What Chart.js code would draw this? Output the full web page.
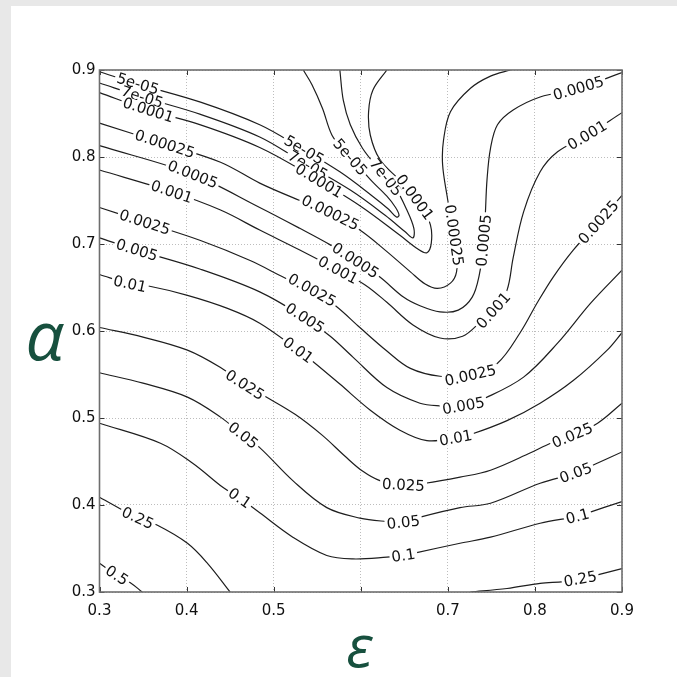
<!DOCTYPE html>
<html>
<head>
<meta charset="utf-8">
<script src="https://cdn.jsdelivr.net/npm/chart.js@4.4.1/dist/chart.umd.min.js"></script>
<style>
  body { margin: 0; background: #e8e8e8; }
  #wrap { position: absolute; left: 11px; top: 6px; width: 666px; height: 671px; background: #fff; }
</style>
</head>
<body>
<div id="wrap"><canvas id="contourChart" width="666" height="671"></canvas></div>
<script>
// axis ticks
const xTicks = [0.3, 0.4, 0.5, 0.6, 0.7, 0.8, 0.9];
const xTickLabels = ["0.3", "0.4", "0.5", "", "0.7", "0.8", "0.9"];
const yTicks = [0.3, 0.4, 0.5, 0.6, 0.7, 0.8, 0.9];
const yTickLabels = ["0.3", "0.4", "0.5", "0.6", "0.7", "0.8", "0.9"];

// contour lines, [epsilon, alpha] points
const c5e05 = [[0.300,0.898],[0.344,0.884],[0.416,0.863],[0.484,0.837],[0.530,0.811],[0.576,0.783],[0.611,0.757],[0.632,0.740],[0.641,0.731],[0.644,0.733],[0.640,0.742],[0.630,0.755],[0.613,0.772],[0.597,0.790],[0.582,0.806],[0.567,0.825],[0.556,0.856],[0.544,0.883],[0.534,0.900]];
const c7e05 = [[0.300,0.885],[0.349,0.869],[0.416,0.849],[0.484,0.823],[0.530,0.796],[0.588,0.762],[0.628,0.733],[0.651,0.714],[0.660,0.707],[0.661,0.718],[0.653,0.739],[0.640,0.764],[0.620,0.787],[0.602,0.810],[0.588,0.837],[0.580,0.865],[0.576,0.900]];
const c1e04 = [[0.300,0.874],[0.356,0.854],[0.416,0.837],[0.484,0.811],[0.542,0.779],[0.599,0.744],[0.645,0.710],[0.666,0.694],[0.676,0.690],[0.681,0.701],[0.680,0.722],[0.668,0.747],[0.645,0.773],[0.622,0.797],[0.611,0.825],[0.609,0.852],[0.614,0.877],[0.630,0.900]];
const c25e05 = [[0.300,0.839],[0.375,0.815],[0.439,0.794],[0.484,0.770],[0.530,0.750],[0.565,0.736],[0.599,0.716],[0.628,0.693],[0.657,0.668],[0.674,0.654],[0.688,0.649],[0.703,0.655],[0.710,0.668],[0.710,0.693],[0.705,0.722],[0.699,0.756],[0.694,0.791],[0.695,0.819],[0.703,0.852],[0.726,0.879],[0.749,0.893],[0.772,0.900]];
const c5e04 = [[0.300,0.813],[0.407,0.780],[0.484,0.742],[0.530,0.718],[0.565,0.699],[0.594,0.681],[0.622,0.662],[0.649,0.639],[0.668,0.629],[0.691,0.622],[0.712,0.624],[0.728,0.639],[0.736,0.664],[0.741,0.699],[0.743,0.733],[0.745,0.774],[0.749,0.810],[0.757,0.837],[0.775,0.854],[0.806,0.869],[0.850,0.879],[0.900,0.897]];
const c1e03 = [[0.300,0.785],[0.383,0.760],[0.439,0.739],[0.484,0.716],[0.530,0.693],[0.574,0.670],[0.605,0.653],[0.630,0.633],[0.660,0.607],[0.691,0.592],[0.717,0.594],[0.737,0.610],[0.755,0.626],[0.768,0.647],[0.775,0.684],[0.787,0.737],[0.806,0.783],[0.826,0.806],[0.860,0.825],[0.900,0.851]];
const c25e04 = [[0.300,0.742],[0.352,0.725],[0.416,0.704],[0.473,0.681],[0.513,0.661],[0.544,0.647],[0.571,0.629],[0.599,0.604],[0.630,0.577],[0.657,0.557],[0.691,0.548],[0.726,0.549],[0.757,0.563],[0.783,0.598],[0.803,0.633],[0.821,0.662],[0.844,0.693],[0.873,0.725],[0.900,0.756]];
const c5e03 = [[0.300,0.707],[0.343,0.693],[0.416,0.671],[0.484,0.645],[0.536,0.615],[0.565,0.594],[0.591,0.570],[0.630,0.535],[0.668,0.517],[0.691,0.514],[0.718,0.514],[0.743,0.523],[0.787,0.547],[0.826,0.586],[0.864,0.632],[0.900,0.670]];
const c1e02 = [[0.300,0.665],[0.335,0.654],[0.355,0.652],[0.401,0.641],[0.447,0.626],[0.484,0.609],[0.528,0.578],[0.545,0.565],[0.576,0.539],[0.611,0.509],[0.645,0.486],[0.676,0.474],[0.709,0.477],[0.726,0.481],[0.768,0.497],[0.806,0.517],[0.844,0.543],[0.883,0.578],[0.900,0.598]];
const c25e03 = [[0.300,0.604],[0.350,0.593],[0.401,0.578],[0.439,0.558],[0.467,0.538],[0.490,0.525],[0.525,0.504],[0.556,0.480],[0.582,0.456],[0.602,0.439],[0.622,0.428],[0.649,0.423],[0.674,0.425],[0.714,0.432],[0.749,0.440],[0.795,0.460],[0.818,0.471],[0.843,0.480],[0.872,0.494],[0.900,0.517]];
const c5e02 = [[0.300,0.552],[0.350,0.540],[0.401,0.524],[0.439,0.501],[0.465,0.480],[0.484,0.466],[0.522,0.428],[0.561,0.397],[0.599,0.385],[0.630,0.381],[0.649,0.380],[0.668,0.386],[0.714,0.397],[0.749,0.402],[0.806,0.425],[0.847,0.437],[0.867,0.446],[0.900,0.461]];
const c1e01 = [[0.300,0.494],[0.370,0.471],[0.407,0.448],[0.442,0.420],[0.461,0.408],[0.484,0.391],[0.522,0.363],[0.561,0.342],[0.591,0.338],[0.630,0.340],[0.649,0.342],[0.663,0.345],[0.714,0.356],[0.749,0.363],[0.806,0.379],[0.849,0.387],[0.861,0.391],[0.900,0.404]];
const c25e02a = [[0.300,0.409],[0.344,0.385],[0.366,0.377],[0.401,0.356],[0.424,0.333],[0.450,0.300]];
const c25e02b = [[0.726,0.300],[0.768,0.304],[0.806,0.310],[0.833,0.312],[0.852,0.315],[0.873,0.320],[0.900,0.327]];
const c5e01 = [[0.300,0.333],[0.320,0.319],[0.335,0.311],[0.349,0.300]];

const contours = [
    ["5e-05", c5e05], ["7e-05", c7e05], ["0.0001", c1e04], ["0.00025", c25e05],
    ["0.0005", c5e04], ["0.001", c1e03], ["0.0025", c25e04], ["0.005", c5e03],
    ["0.01", c1e02], ["0.025", c25e03], ["0.05", c5e02], ["0.1", c1e01],
    ["0.25", c25e02a], ["0.25", c25e02b], ["0.5", c5e01]
];

// where the inline level labels sit (epsilon, alpha)
const labelSpots = [
    ["5e-05", 0.344, 0.884], ["5e-05", 0.533, 0.805], ["5e-05", 0.588, 0.800],
    ["7e-05", 0.349, 0.869], ["7e-05", 0.539, 0.790], ["7e-05", 0.628, 0.776],
    ["0.0001", 0.356, 0.854], ["0.0001", 0.551, 0.771], ["0.0001", 0.659, 0.751],
    ["0.00025", 0.375, 0.815], ["0.00025", 0.565, 0.736], ["0.00025", 0.706, 0.710],
    ["0.0005", 0.407, 0.780], ["0.0005", 0.594, 0.681], ["0.0005", 0.741, 0.704], ["0.0005", 0.850, 0.879],
    ["0.001", 0.383, 0.760], ["0.001", 0.574, 0.670], ["0.001", 0.752, 0.624], ["0.001", 0.860, 0.825],
    ["0.0025", 0.352, 0.725], ["0.0025", 0.544, 0.647], ["0.0025", 0.726, 0.549], ["0.0025", 0.873, 0.725],
    ["0.005", 0.343, 0.693], ["0.005", 0.536, 0.615], ["0.005", 0.718, 0.514],
    ["0.01", 0.335, 0.654], ["0.01", 0.528, 0.578], ["0.01", 0.709, 0.477],
    ["0.025", 0.467, 0.538], ["0.025", 0.649, 0.423], ["0.025", 0.843, 0.480],
    ["0.05", 0.465, 0.480], ["0.05", 0.649, 0.380], ["0.05", 0.847, 0.437],
    ["0.1", 0.461, 0.408], ["0.1", 0.649, 0.342], ["0.1", 0.849, 0.387],
    ["0.25", 0.344, 0.385], ["0.25", 0.852, 0.315],
    ["0.5", 0.320, 0.319]
];

const tickFont = { family: "DejaVu Sans", size: 15 };

// snap a label onto its curve and find the direction of the line there
function snapToCurve(pts, px, py) {
    let best = null;
    let acc = 0;
    const cum = [0];
    for (let i = 1; i < pts.length; i++) {
        acc += Math.hypot(pts[i][0] - pts[i - 1][0], pts[i][1] - pts[i - 1][1]);
        cum.push(acc);
    }
    for (let i = 0; i < pts.length - 1; i++) {
        const [ax, ay] = pts[i], [bx, by] = pts[i + 1];
        const dx = bx - ax, dy = by - ay;
        const len2 = dx * dx + dy * dy || 1;
        let t = ((px - ax) * dx + (py - ay) * dy) / len2;
        t = Math.max(0, Math.min(1, t));
        const qx = ax + t * dx, qy = ay + t * dy;
        const d = (qx - px) ** 2 + (qy - py) ** 2;
        if (!best || d < best.d) best = { d, x: qx, y: qy, s: cum[i] + t * Math.sqrt(len2) };
    }
    function at(s) {
        s = Math.max(0, Math.min(acc, s));
        for (let i = 1; i < pts.length; i++) {
            if (cum[i] >= s) {
                const f = (s - cum[i - 1]) / ((cum[i] - cum[i - 1]) || 1);
                return [pts[i - 1][0] + f * (pts[i][0] - pts[i - 1][0]), pts[i - 1][1] + f * (pts[i][1] - pts[i - 1][1])];
            }
        }
        return pts[pts.length - 1];
    }
    const p1 = at(best.s - 22), p2 = at(best.s + 22);
    let a = Math.atan2(p2[1] - p1[1], p2[0] - p1[0]);
    if (a > Math.PI / 2) a -= Math.PI;
    if (a <= -Math.PI / 2) a += Math.PI;
    best.a = a;
    return best;
}

const contourLabels = {
    id: "contourLabels",
    afterDatasetsDraw(chart) {
        const ctx = chart.ctx, xs = chart.scales.x, ys = chart.scales.y, area = chart.chartArea;
        ctx.save();
        ctx.beginPath();
        ctx.rect(area.left, area.top, area.right - area.left, area.bottom - area.top);
        ctx.clip();
        ctx.font = "15px 'DejaVu Sans'";
        ctx.textAlign = "center";
        ctx.textBaseline = "middle";
        labelSpots.forEach(([lvl, ex, ay]) => {
            const px = xs.getPixelForValue(ex), py = ys.getPixelForValue(ay);
            let best = null;
            contours.filter(c => c[0] === lvl).forEach(c => {
                const pts = c[1].map(p => [xs.getPixelForValue(p[0]), ys.getPixelForValue(p[1])]);
                const b = snapToCurve(pts, px, py);
                if (!best || b.d < best.d) best = b;
            });
            const w = ctx.measureText(lvl).width;
            ctx.save();
            ctx.translate(best.x, best.y);
            ctx.rotate(best.a);
            ctx.fillStyle = "#fff";
            ctx.fillRect(-w / 2 - 2, -6, w + 4, 12);
            ctx.fillStyle = "#111";
            ctx.fillText(lvl, 0, 1);
            ctx.restore();
        });
        ctx.restore();
    }
};

const frameAndTicks = {
    id: "frameAndTicks",
    afterDraw(chart) {
        const ctx = chart.ctx, xs = chart.scales.x, ys = chart.scales.y, a = chart.chartArea;
        ctx.save();
        ctx.strokeStyle = "#333";
        ctx.lineWidth = 1;
        ctx.beginPath();
        xTicks.forEach(v => {
            const x = Math.round(xs.getPixelForValue(v)) + 0.5;
            ctx.moveTo(x, a.bottom); ctx.lineTo(x, a.bottom - 5);
            ctx.moveTo(x, a.top); ctx.lineTo(x, a.top + 5);
        });
        yTicks.forEach(v => {
            const y = Math.round(ys.getPixelForValue(v)) + 0.5;
            ctx.moveTo(a.left, y); ctx.lineTo(a.left + 5, y);
            ctx.moveTo(a.right, y); ctx.lineTo(a.right - 5, y);
        });
        ctx.stroke();
        ctx.strokeStyle = "#6e6e6e";
        ctx.lineWidth = 1.6;
        ctx.strokeRect(a.left, a.top, a.right - a.left, a.bottom - a.top);

        // axis symbols, upright
        ctx.fillStyle = "#17503e";
        ctx.textAlign = "left";
        ctx.textBaseline = "alphabetic";
        function glyph(txt, cx, cy, h) {
            ctx.font = "italic 100px 'Open Sans'";
            let m = ctx.measureText(txt);
            const size = 100 * h / (m.actualBoundingBoxAscent + m.actualBoundingBoxDescent);
            ctx.font = "italic " + size.toFixed(1) + "px 'Open Sans'";
            m = ctx.measureText(txt);
            const x = cx - (m.actualBoundingBoxRight - m.actualBoundingBoxLeft) / 2 + m.actualBoundingBoxLeft;
            const y = cy + (m.actualBoundingBoxAscent - m.actualBoundingBoxDescent) / 2;
            ctx.fillText(txt, x, y);
        }
        glyph("α", a.left - 50, a.top + 272, 38);
        glyph("ε", (a.left + a.right) / 2 + 0.5, a.bottom + 59, 33);
        ctx.restore();
    }
};

document.addEventListener("DOMContentLoaded", function () {
    const ctx = document.getElementById("contourChart").getContext("2d");

    new Chart(ctx, {
        type: "scatter",
        data: {
            datasets: contours.map(([lvl, pts]) => ({
                label: lvl,
                data: pts.map(p => ({ x: p[0], y: p[1] })),
                showLine: true,
                borderColor: "#1e1e1e",
                borderWidth: 1.2,
                pointRadius: 0,
                tension: 0.35,
                fill: false
            }))
        },
        options: {
            responsive: false,
            animation: false,
            layout: { padding: { left: 0, top: 64, right: 55, bottom: 0 } },
            plugins: { legend: { display: false }, tooltip: { enabled: false } },
            scales: {
                x: {
                    type: "linear",
                    min: 0.3,
                    max: 0.9,
                    afterBuildTicks: s => { s.ticks = xTicks.map(v => ({ value: v })); },
                    afterFit: s => { s.height = 85; },
                    ticks: {
                        callback: (v, i) => xTickLabels[i],
                        font: tickFont,
                        color: "#111",
                        padding: 10,
                        maxRotation: 0,
                        autoSkip: false
                    },
                    grid: { color: "#bdbdbd", drawTicks: false, lineWidth: 1 },
                    border: { display: false, dash: [1, 2] }
                },
                y: {
                    type: "linear",
                    min: 0.3,
                    max: 0.9,
                    afterBuildTicks: s => { s.ticks = yTicks.map(v => ({ value: v })); },
                    afterFit: s => { s.width = 88.5; },
                    ticks: {
                        callback: (v, i) => yTickLabels[i],
                        font: tickFont,
                        color: "#111",
                        padding: 4,
                        autoSkip: false
                    },
                    grid: { color: "#bdbdbd", drawTicks: false, lineWidth: 1 },
                    border: { display: false, dash: [1, 2] }
                }
            }
        },
        plugins: [contourLabels, frameAndTicks]
    });
});
</script>
</body>
</html>
